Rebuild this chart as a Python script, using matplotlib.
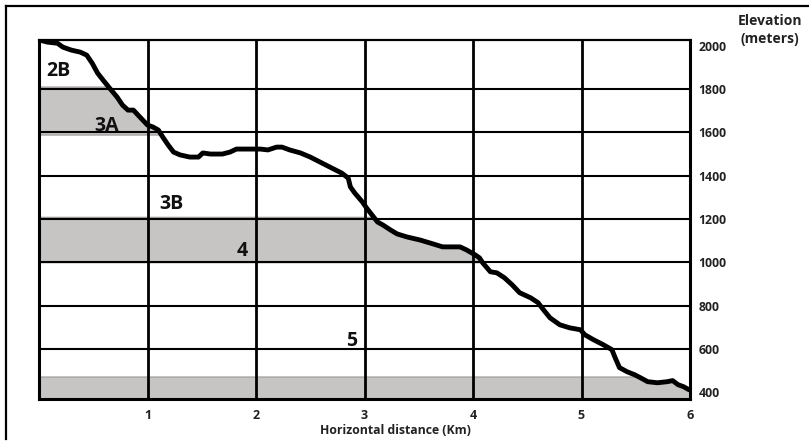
import numpy as np
import matplotlib
matplotlib.use("Agg")
import matplotlib.pyplot as plt
from matplotlib.lines import Line2D

# ---- data ----
distance_km = [0.01, 0.08, 0.17, 0.22, 0.30, 0.38, 0.44, 0.49, 0.54, 0.59, 0.65, 0.72,
               0.77, 0.82, 0.87, 0.93, 1.00, 1.05, 1.10, 1.14, 1.19, 1.24, 1.30, 1.39,
               1.47, 1.51, 1.58, 1.69, 1.76, 1.82, 1.94, 2.04, 2.11, 2.19, 2.24, 2.31,
               2.41, 2.50, 2.59, 2.68, 2.79, 2.85, 2.87, 2.91, 2.98, 3.02, 3.07, 3.12,
               3.17, 3.24, 3.30, 3.39, 3.51, 3.63, 3.72, 3.88, 3.94, 4.02, 4.06, 4.09,
               4.16, 4.22, 4.29, 4.36, 4.43, 4.53, 4.60, 4.65, 4.71, 4.80, 4.89, 4.99,
               5.03, 5.11, 5.20, 5.28, 5.31, 5.35, 5.42, 5.49, 5.54, 5.61, 5.70, 5.79,
               5.84, 5.89, 5.94, 5.99]
elevation_m = [2026, 2017, 2012, 1994, 1980, 1971, 1957, 1920, 1874, 1842, 1805, 1763,
               1726, 1703, 1703, 1671, 1634, 1625, 1611, 1579, 1542, 1509, 1496, 1486,
               1486, 1505, 1500, 1500, 1509, 1523, 1523, 1523, 1519, 1532, 1532, 1519,
               1505, 1486, 1463, 1440, 1412, 1389, 1348, 1320, 1279, 1250, 1218, 1186,
               1172, 1149, 1131, 1117, 1103, 1085, 1071, 1071, 1057, 1034, 1020, 997,
               956, 951, 928, 896, 859, 836, 813, 780, 743, 711, 697, 688,
               665, 642, 619, 596, 559, 513, 494, 480, 467, 448, 443, 448,
               453, 434, 425, 411]

band_low = [1590, 1000, 368]
band_high = [1812, 1210, 472]

zone_labels = ["2B", "3A", "3B", "4", "5"]
zone_x = [0.18, 0.62, 1.22, 1.87, 2.88]
zone_y = [1883, 1629, 1271, 1050, 635]

x_ticks = [1, 2, 3, 4, 5, 6]
y_ticks = [400, 600, 800, 1000, 1200, 1400, 1600, 1800, 2000]
h_grid = [600, 800, 1000, 1200, 1400, 1600, 1800]
v_grid = [1, 2, 3, 4, 5]

# ---- figure ----
fig = plt.figure(figsize=(8.09, 4.41), dpi=100)
ax = fig.add_axes([39 / 809, 1 - 399 / 441, (690 - 39) / 809, (399 - 40) / 441])

ax.set_xlim(0, 6)
ax.set_ylim(368, 2027)

x = np.array(distance_km)
y = np.array(elevation_m)
xf = np.linspace(0, 6, 2400)
yf = np.interp(xf, x, y)

band_color = "#c7c4c4"
for lo, hi in zip(band_low, band_high):
    top = np.minimum(yf, hi)
    ax.fill_between(xf, lo, top, where=(yf >= lo), interpolate=True,
                    facecolor=band_color, edgecolor="#9a9696",
                    linewidth=0.8, zorder=1)

for g in h_grid:
    ax.axhline(g, color="black", lw=1.5, zorder=2)
for g in v_grid:
    ax.axvline(g, color="black", lw=2.0, zorder=2)

ax.plot(x, y, color="black", lw=3.5, solid_capstyle="round",
        solid_joinstyle="round", zorder=4)

for s in ["left", "right", "bottom"]:
    ax.spines[s].set_linewidth(2.2)
ax.spines["top"].set_linewidth(1.6)

font = "Open Sans"
for lab, lx, ly in zip(zone_labels, zone_x, zone_y):
    ax.text(lx, ly, lab, fontsize=14, fontweight="bold", family=font,
            ha="center", va="center", color="#111111", zorder=5)

ax.yaxis.tick_right()
ax.set_yticks(y_ticks)
ax.set_yticklabels([str(v) for v in y_ticks], fontsize=8.8, fontweight="bold",
                   family=font, color="#222222")
ax.set_xticks(x_ticks)
ax.set_xticklabels([str(v) for v in x_ticks], fontsize=9, fontweight="bold",
                   family=font, color="#222222")
ax.tick_params(axis="both", length=0)
ax.tick_params(axis="y", pad=6)
ax.tick_params(axis="x", pad=7)

fig.text(395 / 809, 1 - 431 / 441, "Horizontal distance (Km)", fontsize=8.8,
         fontweight="bold", family=font, ha="center", va="center", color="#222222")
fig.text(770 / 809, 1 - 21 / 441, "Elevation", fontsize=10,
         fontweight="bold", family=font, ha="center", va="center", color="#222222")
fig.text(770 / 809, 1 - 39 / 441, "(meters)", fontsize=10,
         fontweight="bold", family=font, ha="center", va="center", color="#222222")

# outer frame (left and top edges)
fig.add_artist(Line2D([6 / 809, 6 / 809], [0.005, 1 - 6 / 441], transform=fig.transFigure,
                      color="black", lw=1.6))
fig.add_artist(Line2D([6 / 809, 1.0], [1 - 6 / 441, 1 - 6 / 441], transform=fig.transFigure,
                      color="black", lw=1.6))

fig.savefig("out.png", dpi=100)
